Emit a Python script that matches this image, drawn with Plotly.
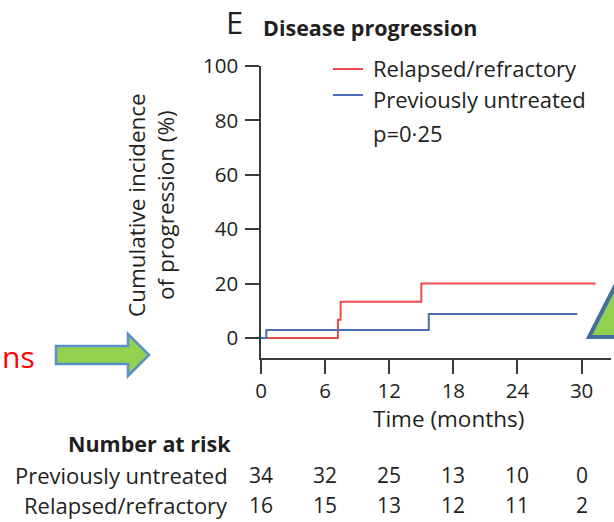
import plotly.graph_objects as go

# Cumulative incidence of progression (%) by time (months)
months_rr = [0, 7.2, 7.45, 15.0, 31.3]
incidence_rr = [0, 6.7, 13.3, 20.0, 20.0]
months_pu = [0, 0.5, 15.7, 29.6]
incidence_pu = [0, 2.9, 8.8, 8.8]

x_ticks = [0, 6, 12, 18, 24, 30]
y_ticks = [0, 20, 40, 60, 80, 100]

# Number at risk at each x tick
risk_labels = ["Previously untreated", "Relapsed/refractory"]
risk_pu = [34, 32, 25, 13, 10, 0]
risk_rr = [16, 15, 13, 12, 11, 2]

RED = "#EE4A4A"
BLUE = "#4A6EB8"
INK = "#231F20"
AXIS = "#3A3A3A"
FONT = "Open Sans"

W, H = 614, 522
L, T, PW, PH = 261, 66, 350, 292


def px(x):
    return (x - L) / PW


def py(y):
    return (T + PH - y) / PH


fig = go.Figure()
fig.add_trace(go.Scatter(x=months_rr, y=incidence_rr, mode="lines", line_shape="hv",
                         line=dict(color=RED, width=2), name="Relapsed/refractory",
                         showlegend=False))
fig.add_trace(go.Scatter(x=months_pu, y=incidence_pu, mode="lines", line_shape="hv",
                         line=dict(color=BLUE, width=2), name="Previously untreated",
                         showlegend=False))

ann = []


def text(x, y, s, size=22, color=INK, xanchor="center", bold=False, **kw):
    ann.append(dict(x=px(x), y=py(y), xref="paper", yref="paper", text=s,
                    showarrow=False, xanchor=xanchor, yanchor="middle",
                    font=dict(family=FONT, size=size, color=color,
                              weight="bold" if bold else "normal"), **kw))


# Panel heading
text(234, 22, "E", size=31)
text(261, 27, "Disease progression", size=21.5, xanchor="left", bold=True)

# Legend
text(371, 68, "Relapsed/refractory", xanchor="left")
text(371, 99, "Previously untreated", xanchor="left")
text(371, 133, "p=0·25", xanchor="left")

# Axis titles
ann.append(dict(x=px(151), y=py(205), xref="paper", yref="paper",
                text="Cumulative incidence<br>of progression (%)", showarrow=False,
                textangle=-90, xanchor="center", yanchor="middle",
                font=dict(family=FONT, size=22.5, color=INK)))
text(448, 418, "Time (months)", size=22.5)

# Number at risk table
text(233, 443, "Number at risk", xanchor="right", bold=True, size=21.5)
for label, row, yy in zip(risk_labels, [risk_pu, risk_rr], [475, 505]):
    text(230, yy, label, xanchor="right")
    for t, n in zip(x_ticks, row):
        ann.append(dict(x=t, y=py(yy), xref="x", yref="paper", text=str(n),
                        showarrow=False, xanchor="center", yanchor="middle",
                        font=dict(family=FONT, size=21, color=INK)))

# Red slide text at the left edge
text(0, 356, "ns", size=30, color="#FF0000", xanchor="left")

shapes = [
    dict(type="line", xref="paper", yref="paper", x0=px(333), x1=px(363),
         y0=py(69), y1=py(69), line=dict(color=RED, width=2)),
    dict(type="line", xref="paper", yref="paper", x0=px(333), x1=px(363),
         y0=py(95), y1=py(95), line=dict(color=BLUE, width=2)),
]

arrow_pts = [(56, 346), (128, 346), (128, 334), (149, 355), (128, 376), (128, 364), (56, 364)]
arrow_path = "M " + " L ".join(f"{px(a):.5f},{py(b):.5f}" for a, b in arrow_pts) + " Z"
shapes.append(dict(type="path", xref="paper", yref="paper", path=arrow_path,
                   fillcolor="#92D050", line=dict(color="#5B8FC9", width=2.5)))

tri_pts = [(589, 337), (614, 288), (639, 337)]
tri_path = "M " + " L ".join(f"{px(a):.5f},{py(b):.5f}" for a, b in tri_pts) + " Z"
shapes.append(dict(type="path", xref="paper", yref="paper", path=tri_path,
                   fillcolor="#92D050", line=dict(color="#41719C", width=4)))

fig.update_layout(
    width=W, height=H,
    margin=dict(l=L, r=W - L - PW, t=T, b=H - T - PH, pad=0),
    paper_bgcolor="white", plot_bgcolor="white",
    showlegend=False,
    annotations=ann,
    shapes=shapes,
    font=dict(family=FONT, size=21, color=INK),
    xaxis=dict(range=[0, 32.75], tickvals=x_ticks, ticks="outside", ticklen=14,
               tickwidth=1.5, tickcolor=AXIS, showline=True, linecolor=AXIS,
               linewidth=1.5, showgrid=False, zeroline=False,
               tickfont=dict(family=FONT, size=20.5, color=INK)),
    yaxis=dict(range=[-7.35, 100], tickvals=y_ticks, ticks="outside", ticklen=14,
               tickwidth=1.5, tickcolor=AXIS, showline=True, linecolor=AXIS,
               linewidth=1.5, showgrid=False, zeroline=False, ticklabelstandoff=3,
               tickfont=dict(family=FONT, size=20.5, color=INK)),
)

fig.write_html("out.html")
